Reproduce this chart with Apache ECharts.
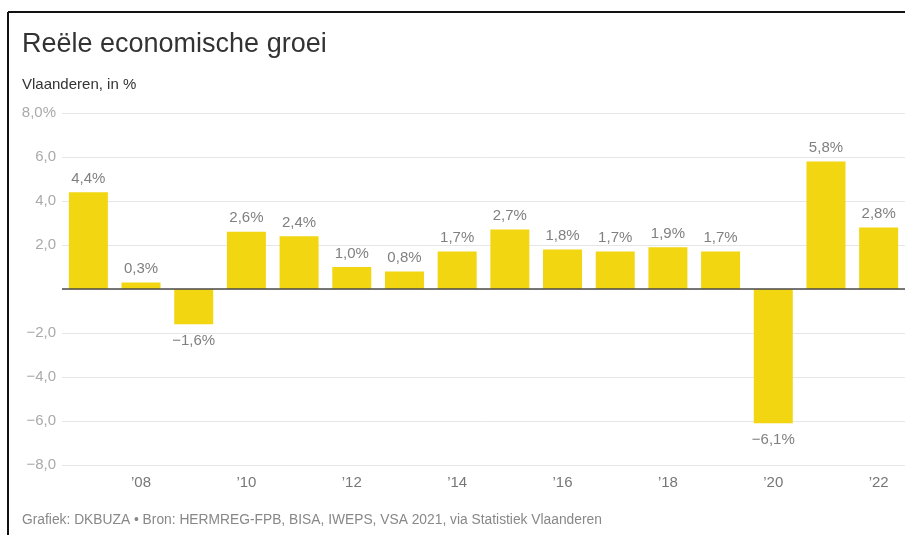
<!DOCTYPE html>
<html>
<head>
<meta charset="utf-8">
<script src="https://cdn.jsdelivr.net/npm/echarts@6/dist/echarts.min.js"></script>
<style>
html,body{margin:0;padding:0;background:#fff;}
#c{width:905px;height:535px;}
</style>
</head>
<body>
<div id="c"></div>
<script>
const years = ['2007','2008','2009','2010','2011','2012','2013','2014','2015','2016','2017','2018','2019','2020','2021','2022'];
const growth = [4.4, 0.3, -1.6, 2.6, 2.4, 1.0, 0.8, 1.7, 2.7, 1.8, 1.7, 1.9, 1.7, -6.1, 5.8, 2.8];
const yTicks = [-8, -6, -4, -2, 0, 2, 4, 6, 8];

function fmtNum(v, d) {
  const s = Math.abs(v).toFixed(d).replace('.', ',');
  return (v < 0 ? '\u2212' : '') + s;
}

const chart = echarts.init(document.getElementById('c'));
const font = '"Liberation Sans", Arial, sans-serif';
chart.setOption({
  animation: false,
  textStyle: { fontFamily: font },
  title: [
    { text: 'Reële economische groei', left: 22, top: 31, padding: 0, textStyle: { fontFamily: font, fontSize: 27, fontWeight: 'normal', color: '#333' } },
    { text: 'Vlaanderen, in %', left: 22, top: 77, padding: 0, textStyle: { fontFamily: font, fontSize: 15, fontWeight: 'normal', color: '#333' } },
    { text: 'Grafiek: DKBUZA \u2022 Bron: HERMREG-FPB, BISA, IWEPS, VSA 2021, via Statistiek Vlaanderen', left: 22, top: 513, padding: 0, textStyle: { fontFamily: font, fontSize: 13.8, fontWeight: 'normal', color: '#888' } }
  ],
  graphic: [
    { type: 'line', shape: { x1: 8, y1: 12, x2: 905, y2: 12 }, style: { stroke: '#111', lineWidth: 2 } },
    { type: 'line', shape: { x1: 8, y1: 12, x2: 8, y2: 535 }, style: { stroke: '#111', lineWidth: 2 } }
  ],
  grid: { left: 62, top: 113, width: 845, height: 352, containLabel: false },
  xAxis: {
    type: 'category',
    data: years,
    axisLine: { show: false },
    axisTick: { show: false },
    axisLabel: {
      interval: function (i) { return i % 2 === 1; },
      formatter: function (v) { return '\u2019' + v.slice(2); },
      color: '#777', fontSize: 15, margin: 10, fontFamily: font
    }
  },
  yAxis: {
    type: 'value',
    min: -8, max: 8, interval: 2,
    axisLine: { show: false },
    axisTick: { show: false },
    splitLine: { lineStyle: { color: '#e6e6e6', width: 1 } },
    axisLabel: {
      color: '#aaa', fontSize: 15, margin: 6, fontFamily: font,
      formatter: function (v) {
        if (v === 0) return '';
        return v === 8 ? fmtNum(v, 1) + '%' : fmtNum(v, 1);
      }
    }
  },
  series: [{
    type: 'bar',
    data: growth.map(function (v) {
      return v < 0 ? { value: v, label: { position: 'bottom', distance: 9 } } : v;
    }),
    barCategoryGap: '26%',
    itemStyle: { color: '#f1d611' },
    label: {
      show: true,
      position: 'top',
      distance: 6,
      color: '#808080', fontSize: 15, fontFamily: font,
      formatter: function (p) { return fmtNum(p.value, 1) + '%'; }
    },
    markLine: {
      silent: true,
      symbol: 'none',
      label: { show: false },
      lineStyle: { color: '#4a4a4a', width: 1.5, type: 'solid' },
      data: [{ yAxis: 0 }]
    }
  }]
});
</script>
</body>
</html>
